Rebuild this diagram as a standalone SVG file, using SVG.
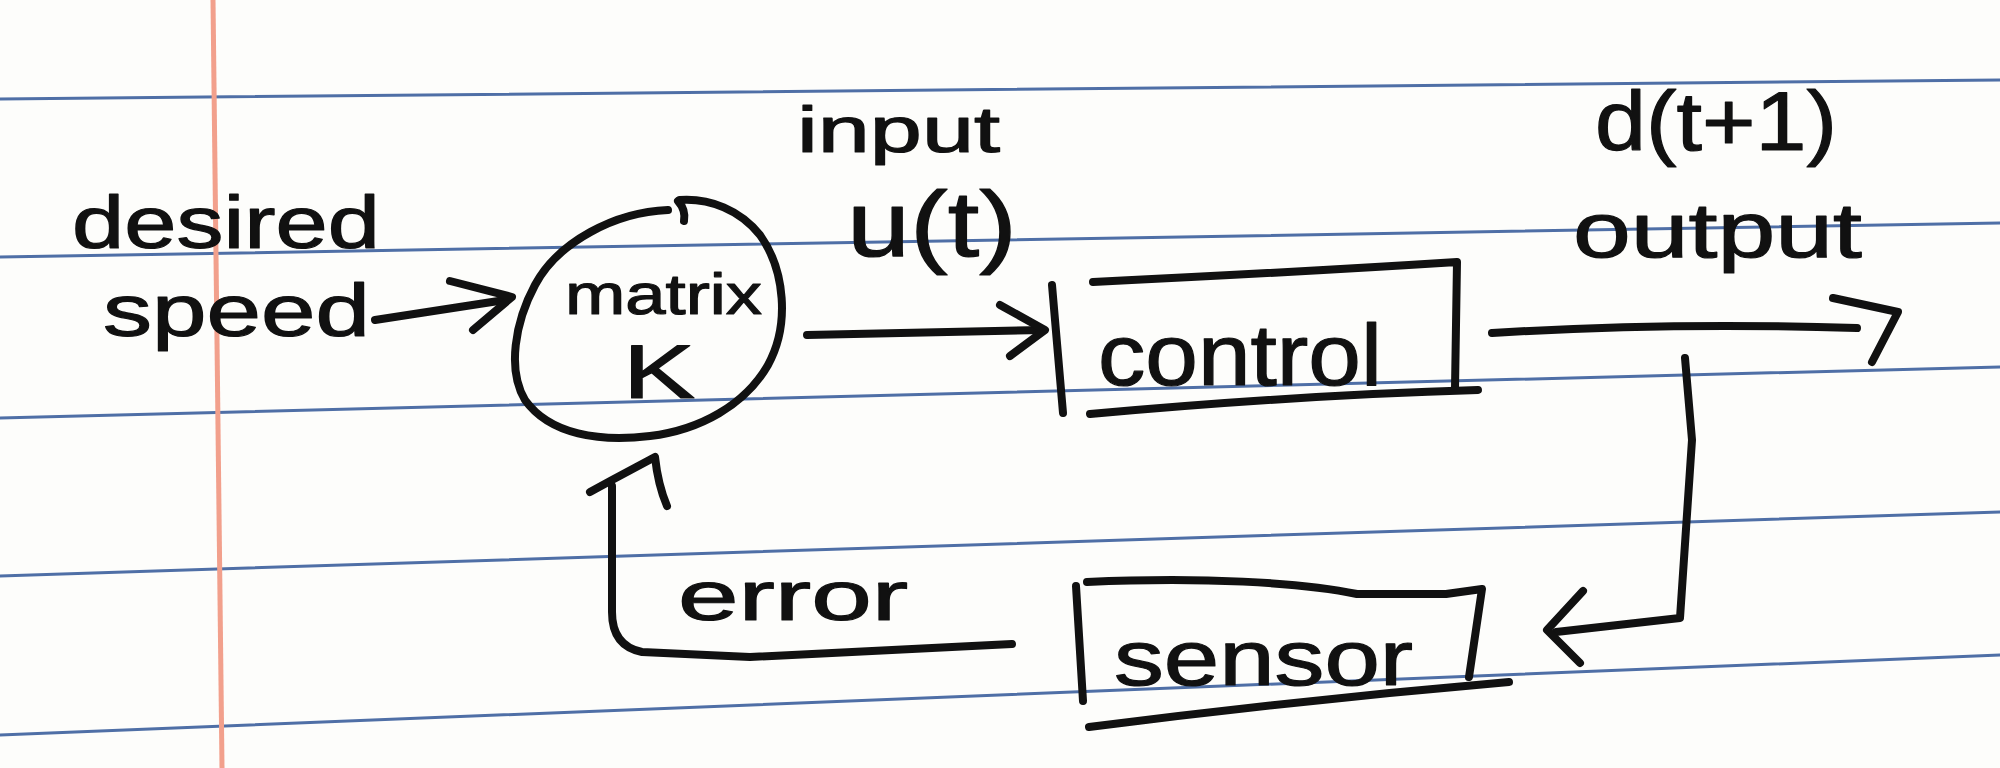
<svg xmlns="http://www.w3.org/2000/svg" width="2000" height="768" viewBox="0 0 2000 768">
  <style>
    .rule { fill: none; stroke: #4f6fa6; stroke-width: 3; stroke-linecap: round; }
    .margin { fill: none; stroke: #f2a08c; stroke-width: 5; }
    .ink { fill: none; stroke: #111; stroke-width: 8; stroke-linecap: round; stroke-linejoin: round; }
    .hw { font-family: "Liberation Sans", Arial, sans-serif; fill: #111; stroke: #111; stroke-width: 1.2; stroke-linejoin: round; }
  </style>
  <rect x="0" y="0" width="2000" height="768" fill="#fdfdfb"/>

  <g id="paper">
    <path class="rule" d="M0,99 Q1000,90 2000,80"/>
    <path class="rule" d="M0,257 Q1000,243 2000,223"/>
    <path class="rule" d="M0,418 Q1000,395 2000,367"/>
    <path class="rule" d="M0,576 Q1000,545 2000,512"/>
    <path class="rule" d="M0,735 Q1000,698 2000,655"/>
    <path class="margin" d="M213,0 L222,768"/>
  </g>

  <g id="node-desired-speed">
    <text class="hw" x="72" y="248" font-size="74" textLength="308" lengthAdjust="spacingAndGlyphs">desired</text>
    <text class="hw" x="103" y="336" font-size="74" textLength="267" lengthAdjust="spacingAndGlyphs">speed</text>
  </g>

  <g id="node-matrix">
    <path class="ink" d="M668,210 C615,212 558,242 535,285 C515,322 507,370 525,400 C550,435 600,442 650,436 C700,430 745,405 768,365 C790,325 785,270 760,235 C740,210 710,198 680,200"/>
    <path class="ink" d="M678,201 Q686,210 684,221"/>
    <text class="hw" x="565" y="314" font-size="58" textLength="197" lengthAdjust="spacingAndGlyphs">matrix</text>
    <text class="hw" x="623" y="398" font-size="76" textLength="72" lengthAdjust="spacingAndGlyphs">K</text>
  </g>

  <g id="node-control">
    <path class="ink" d="M1052,285 L1063,413"/>
    <path class="ink" d="M1093,282 Q1300,272 1457,262 L1455,388"/>
    <path class="ink" d="M1090,414 Q1300,395 1478,390"/>
    <text class="hw" x="1098" y="385" font-size="88" textLength="284" lengthAdjust="spacingAndGlyphs">control</text>
  </g>

  <g id="node-sensor">
    <path class="ink" d="M1076,586 L1083,701"/>
    <path class="ink" d="M1087,582 C1200,577 1300,582 1357,594 L1446,594 L1482,589 L1469,677"/>
    <path class="ink" d="M1089,727 Q1300,700 1509,682"/>
    <text class="hw" x="1114" y="685" font-size="78" textLength="299" lengthAdjust="spacingAndGlyphs">sensor</text>
  </g>

  <g id="connectors">
    <path class="ink" d="M375,320 L505,300"/>
    <path class="ink" d="M450,281 L512,297 L473,330"/>

    <path class="ink" d="M807,335 L1043,330"/>
    <path class="ink" d="M1000,305 L1045,330 L1010,356"/>

    <path class="ink" d="M1492,333 Q1667,322 1857,328"/>
    <path class="ink" d="M1833,298 L1898,312 L1872,362"/>

    <path class="ink" d="M1685,358 L1692,440 L1680,618 L1556,632"/>
    <path class="ink" d="M1583,591 L1547,630 L1580,663"/>

    <path class="ink" d="M1012,644 L750,657 L642,652 Q612,646 612,612 L612,486"/>
    <path class="ink" d="M590,492 L612,480 L655,457 Q658,485 667,506"/>

    <g id="label-input">
      <text class="hw" x="797" y="152" font-size="64" textLength="203" lengthAdjust="spacingAndGlyphs">input</text>
      <text class="hw" x="847" y="256" font-size="92" textLength="170" lengthAdjust="spacingAndGlyphs">u(t)</text>
    </g>
    <g id="label-output">
      <text class="hw" x="1595" y="150" font-size="84" textLength="242" lengthAdjust="spacingAndGlyphs">d(t+1)</text>
      <text class="hw" x="1573" y="257" font-size="78" textLength="289" lengthAdjust="spacingAndGlyphs">output</text>
    </g>
    <g id="label-error">
      <text class="hw" x="678" y="620" font-size="70" textLength="230" lengthAdjust="spacingAndGlyphs">error</text>
    </g>
  </g>
</svg>
